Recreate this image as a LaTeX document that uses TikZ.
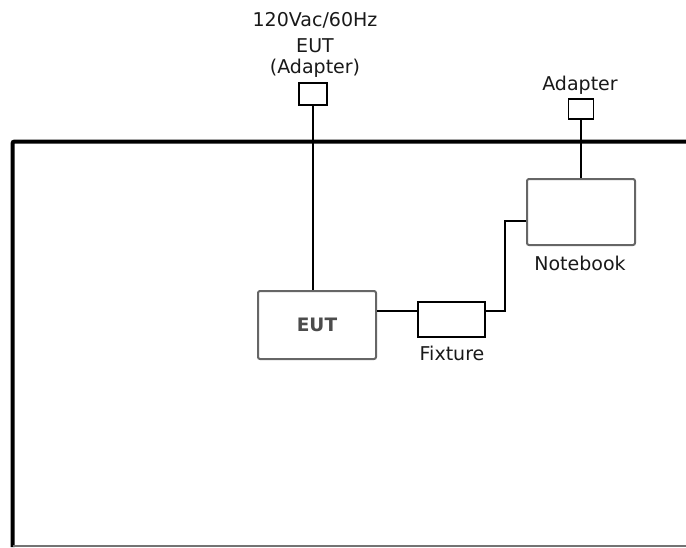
\documentclass[tikz,border=0pt]{standalone}
\usepackage{fontspec}
\setmainfont{DejaVu Sans}
\usepackage{xcolor}
\usetikzlibrary{positioning}

\begin{document}
\begin{tikzpicture}[
    x=1pt, y=-1pt,
    label/.style={
        anchor=base,
        inner sep=0pt,
        text=black!90,
        font=\fontsize{19}{22}\selectfont
    },
    unit/.style={
        rectangle,
        rounded corners=2pt,
        draw=black!60,
        line width=2pt,
        fill=white,
        inner sep=0pt,
        text=black!70,
        font=\fontsize{18.5}{22}\selectfont\bfseries
    },
    plug/.style={
        rectangle,
        draw=black,
        line width=1.4pt,
        fill=white,
        inner sep=0pt
    },
    wire/.style={
        line width=1.4pt,
        draw=black
    }
]
\useasboundingbox (0,0) rectangle (686,547);

% Table Outline
\draw[line width=4pt, rounded corners=2pt] (686,141.5) -- (12.5,141.5) -- (12.5,547);
\draw[line width=2pt, draw=black!55] (12.5,545.5) -- (686,545.5);

% Equipment
\node[unit, minimum width=118pt, minimum height=68pt] (eut) at (317,325) {EUT};
\node[unit, minimum width=108pt, minimum height=66pt] (notebook) at (581,212) {};
\node[plug, minimum width=67pt, minimum height=35pt] (fixture) at (451.5,319.5) {};
\node[plug, minimum width=28pt, minimum height=22pt] (eutadapter) at (313,94) {};
\node[plug, minimum width=25pt, minimum height=20pt] (nbadapter) at (581,109) {};

% Labels
\node[label] (mains) at (315,26) {120Vac/60Hz};
\node[label] (eutname) at (315,52) {EUT};
\node[label] (adaptername) at (315,73) {(Adapter)};
\node[label] (nbadaptername) at (580,90) {Adapter};
\node[label] (notebookname) at (580,270) {Notebook};
\node[label] (fixturename) at (452,360) {Fixture};

% Cables
\coordinate (jog) at (505,221);
\draw[wire] (eutadapter.south) -- (eutadapter.south |- eut.north);
\draw[wire] (nbadapter.south) -- (nbadapter.south |- notebook.north);
\draw[wire] ([yshift=14pt]eut.east) -- ([yshift=8.5pt]fixture.west);
\draw[wire] ([yshift=8.5pt]fixture.east) -| (jog) -- ([yshift=-9pt]notebook.west);

\end{tikzpicture}
\end{document}
